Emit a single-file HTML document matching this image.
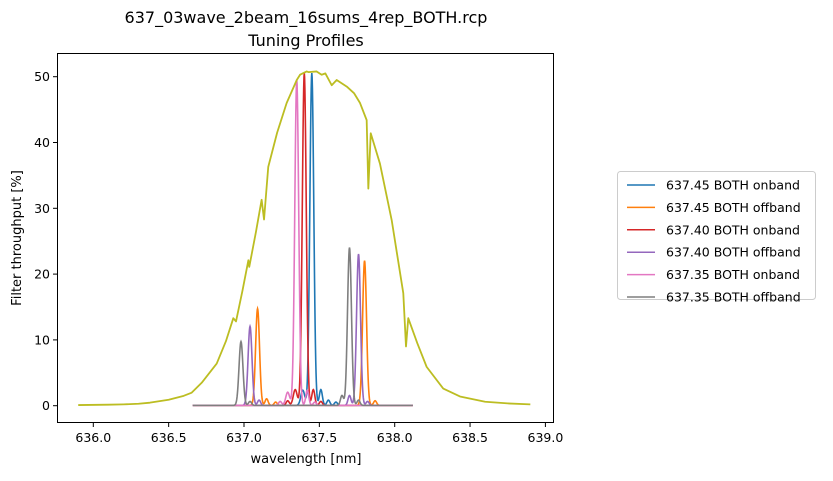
<!DOCTYPE html>
<html><head><meta charset="utf-8"><style>
body{margin:0;background:#fff;}
svg text{font-family:"DejaVu Sans","Liberation Sans",sans-serif;fill:#000;}
</style></head><body>
<svg id="chart" width="833" height="476" viewBox="0 0 833 476">
<text x="306" y="23" font-size="16" text-anchor="middle">637_03wave_2beam_16sums_4rep_BOTH.rcp</text>
<text x="306" y="46" font-size="16" text-anchor="middle">Tuning Profiles</text>
<g id="plot"></g>
<rect x="57.5" y="53.5" width="496" height="369" fill="none" stroke="#000" stroke-width="1"/>
<g id="xticks"></g><g id="yticks"></g>
<text x="306" y="463" font-size="13" text-anchor="middle">wavelength [nm]</text>
<text transform="translate(21,238) rotate(-90)" font-size="13" text-anchor="middle">Filter throughput [%]</text>
<g id="legend"></g>
</svg>
<script>
const xTicks=[636.0,636.5,637.0,637.5,638.0,638.5,639.0];
const yTicks=[0,10,20,30,40,50];
const seriesNames=["637.45 BOTH onband","637.45 BOTH offband","637.40 BOTH onband","637.40 BOTH offband","637.35 BOTH onband","637.35 BOTH offband"];
const seriesColors=["#1f77b4","#ff7f0e","#d62728","#9467bd","#e377c2","#7f7f7f"];
const envWl=[635.9,636.1,636.2,636.3,636.376,636.5,636.6,636.653,636.72,636.819,636.88,636.929,636.947,636.99,637.029,637.035,637.08,637.117,637.133,637.161,637.22,637.283,637.35,637.372,637.416,637.427,637.482,637.515,637.54,637.582,637.615,637.682,637.73,637.77,637.814,637.825,637.841,637.902,637.98,638.057,638.075,638.09,638.15,638.212,638.322,638.433,638.6,638.75,638.9];
const envVal=[0.1,0.15,0.2,0.3,0.46,0.9,1.5,1.98,3.5,6.4,9.8,13.3,12.8,17.5,22.1,21.1,26.5,31.3,28.3,36.3,41.5,46,49.5,50.3,50.8,50.7,50.8,50.3,50.5,48.7,49.5,48.5,47.5,46,43.4,33,41.4,36.8,28.2,17.1,9,13.3,9.5,5.9,2.6,1.4,0.6,0.35,0.2];
const peakCenters=[
 [637.45,637.39,637.51,637.56,637.61],
 [637.09,637.8,637.15,637.87,637.21],
 [637.40,637.34,637.46,637.29,637.51],
 [637.04,637.76,637.10,637.70,637.82],
 [637.35,637.29,637.42,637.24,637.47],
 [636.98,637.70,637.65,637.04,637.76]];
const peakHeights=[
 [50.5,2.3,2.4,0.8,0.5],
 [14.7,22,1.0,0.7,0.5],
 [50.5,2.4,2.4,0.7,0.6],
 [12,23,0.8,1.5,0.6],
 [49.5,2.0,2.3,0.6,0.5],
 [9.7,24,1.5,0.6,0.8]];
const profStart=636.66, profEnd=638.12;

const X=w=>93.3+(w-636)*150.7;
const Y=v=>405.7-v*6.58;
const NS="http://www.w3.org/2000/svg";
function mk(tag,attrs,parent){const e=document.createElementNS(NS,tag);for(const k in attrs)e.setAttribute(k,attrs[k]);parent.appendChild(e);return e;}
const plot=document.getElementById('plot');
for(let s=0;s<seriesNames.length;s++){
 let d="";
 for(let w=profStart;w<=profEnd+1e-9;w+=0.002){
  let v=0.05;
  for(let p=0;p<peakCenters[s].length;p++){const sg=p<2?0.013:0.01;v+=peakHeights[s][p]*Math.exp(-Math.pow((w-peakCenters[s][p])/sg,2)/2);}
  d+=(d?"L":"M")+X(w).toFixed(2)+","+Y(v).toFixed(2);
 }
 const path=mk('path',{d:d,fill:"none",stroke:seriesColors[s],"stroke-width":1.6},plot);
 
 
}
let ed="";
for(let i=0;i<envWl.length;i++)ed+=(i?"L":"M")+X(envWl[i]).toFixed(2)+","+Y(envVal[i]).toFixed(2);
const env=mk('path',{d:ed,fill:"none",stroke:"#bcbd22","stroke-width":1.8,"stroke-linejoin":"round"},plot);


const xg=document.getElementById('xticks');
xTicks.forEach(t=>{
 const l=mk('line',{x1:X(t),x2:X(t),y1:423,y2:427,stroke:"#000"},xg);
 
 
 const tx=mk('text',{x:X(t),y:442,"font-size":12.5,"text-anchor":"middle"},xg);tx.textContent=t.toFixed(1);
 
 
});
const yg=document.getElementById('yticks');
yTicks.forEach(t=>{
 const l=mk('line',{x1:53,x2:57,y1:Y(t),y2:Y(t),stroke:"#000"},yg);
 
 
 const tx=mk('text',{x:50,y:Y(t)+4.5,"font-size":12.5,"text-anchor":"end"},yg);tx.textContent=t;
 
 
});
const lg=document.getElementById('legend');
const box=mk('rect',{x:617.5,y:171.5,width:198,height:128,rx:3,fill:"#fff",stroke:"#ccc"},lg);


seriesNames.forEach((n,i)=>{
 const y=185+i*22.4;
 const l=mk('line',{x1:627,x2:655,y1:y,y2:y,stroke:seriesColors[i],"stroke-width":1.5},lg);
 
 
 const t=mk('text',{x:666,y:y+4.5,"font-size":12.5},lg);t.textContent=n;
 
 
});
</script>
</body></html>
